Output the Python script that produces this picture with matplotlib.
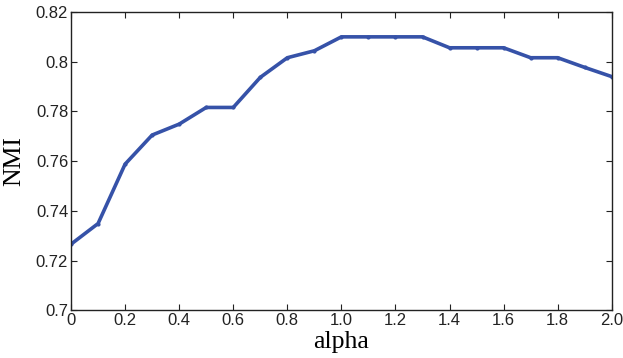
import matplotlib.pyplot as plt
import numpy as np

# data
alpha = [0.0, 0.1, 0.2, 0.3, 0.4, 0.5, 0.6, 0.7, 0.8, 0.9, 1.0,
         1.1, 1.2, 1.3, 1.4, 1.5, 1.6, 1.7, 1.8, 1.9, 2.0]
nmi = [0.7266, 0.7349, 0.7588, 0.7705, 0.7749, 0.7816, 0.7816, 0.7937,
       0.8016, 0.8044, 0.8100, 0.8100, 0.8100, 0.8100, 0.8056, 0.8056,
       0.8056, 0.8016, 0.8016, 0.7977, 0.7940]

xticks = [0, 0.2, 0.4, 0.6, 0.8, 1.0, 1.2, 1.4, 1.6, 1.8, 2.0]
xticklabels = ["0", "0.2", "0.4", "0.6", "0.8", "1.0", "1.2", "1.4", "1.6", "1.8", "2.0"]
yticks = [0.70, 0.72, 0.74, 0.76, 0.78, 0.80, 0.82]
yticklabels = ["0.7", "0.72", "0.74", "0.76", "0.78", "0.8", "0.82"]

fig = plt.figure(figsize=(6.23, 3.58), dpi=100)
ax = fig.add_axes([0.114, 0.1332, 0.868, 0.8333])

ax.plot(alpha, nmi, '-', color='#3652a8', lw=2.6, marker='.', ms=4)

ax.set_xlim(0, 2.0)
ax.set_ylim(0.7, 0.82)
ax.set_xticks(xticks)
ax.set_xticklabels(xticklabels, family='Liberation Sans', fontsize=12)
ax.set_yticks(yticks)
ax.set_yticklabels(yticklabels, family='Liberation Sans', fontsize=12)
ax.tick_params(direction='in', length=4, width=0.8, top=True, right=True,
               colors='#222222', pad=2)
for s in ax.spines.values():
    s.set_linewidth(1.0)
    s.set_color('#222222')

ax.set_xlabel('alpha', family='Liberation Serif', fontsize=18.5)
ax.xaxis.set_label_coords(0.5, -0.068)
ax.set_ylabel('NMI', family='Liberation Serif', fontsize=18.5)
ax.yaxis.set_label_coords(-0.085, 0.5)

plt.savefig('out.png', dpi=100)
